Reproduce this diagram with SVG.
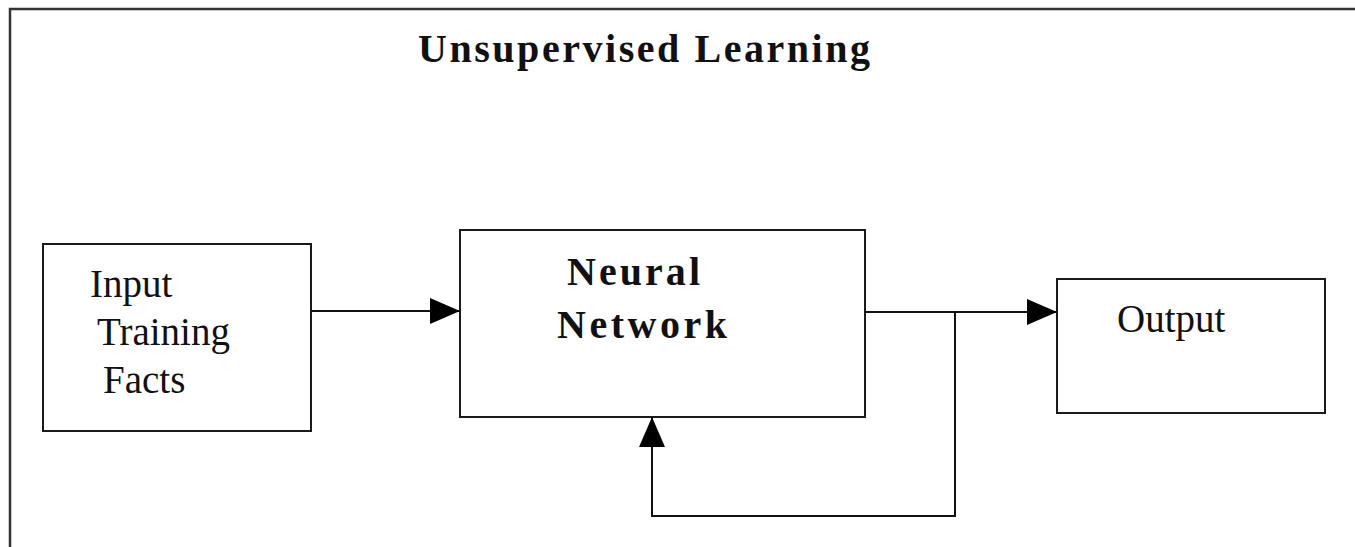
<svg xmlns="http://www.w3.org/2000/svg" width="1355" height="547" viewBox="0 0 1355 547">
  <style>
    .box { fill: #ffffff; stroke: #1a1a1a; stroke-width: 2; }
    .frame { fill: none; stroke: #333333; stroke-width: 2.5; }
    .wire { fill: none; stroke: #111111; stroke-width: 2; }
    .txt { font-family: "Liberation Serif", "Times New Roman", serif; font-size: 39px; fill: #111111; }
    .bold { font-weight: bold; font-size: 40px; }
  </style>
  <defs>
    <marker id="arrow" markerUnits="userSpaceOnUse" markerWidth="30" markerHeight="26" refX="30" refY="13" orient="auto">
      <path d="M0,0 L30,13 L0,26 Z" fill="#000000"/>
    </marker>
  </defs>

  <rect width="1355" height="547" fill="#ffffff"/>

  <!-- outer frame, running off the right and bottom edges -->
  <rect class="frame" x="10" y="9" width="1360" height="560"/>

  <text id="title" class="txt bold" x="418" y="62" textLength="452" lengthAdjust="spacing">Unsupervised Learning</text>

  <g id="input">
    <rect class="box" x="43" y="244" width="268" height="187"/>
    <text class="txt" x="90" y="297">Input</text>
    <text class="txt" x="97" y="345">Training</text>
    <text class="txt" x="103" y="393">Facts</text>
  </g>

  <g id="neural-network">
    <rect class="box" x="460" y="230" width="405" height="187"/>
    <text class="txt bold" x="567" y="285" textLength="133" lengthAdjust="spacing">Neural</text>
    <text class="txt bold" x="557" y="338" textLength="170" lengthAdjust="spacing">Network</text>
  </g>

  <g id="output">
    <rect class="box" x="1057" y="279" width="268" height="134"/>
    <text class="txt" x="1117" y="332">Output</text>
  </g>

  <g id="connectors">
    <path class="wire" d="M311,311 H460" marker-end="url(#arrow)"/>
    <path class="wire" d="M865,312 H1057" marker-end="url(#arrow)"/>
    <path class="wire" d="M955,312 V516 H652 V417" marker-end="url(#arrow)"/>
  </g>
</svg>
